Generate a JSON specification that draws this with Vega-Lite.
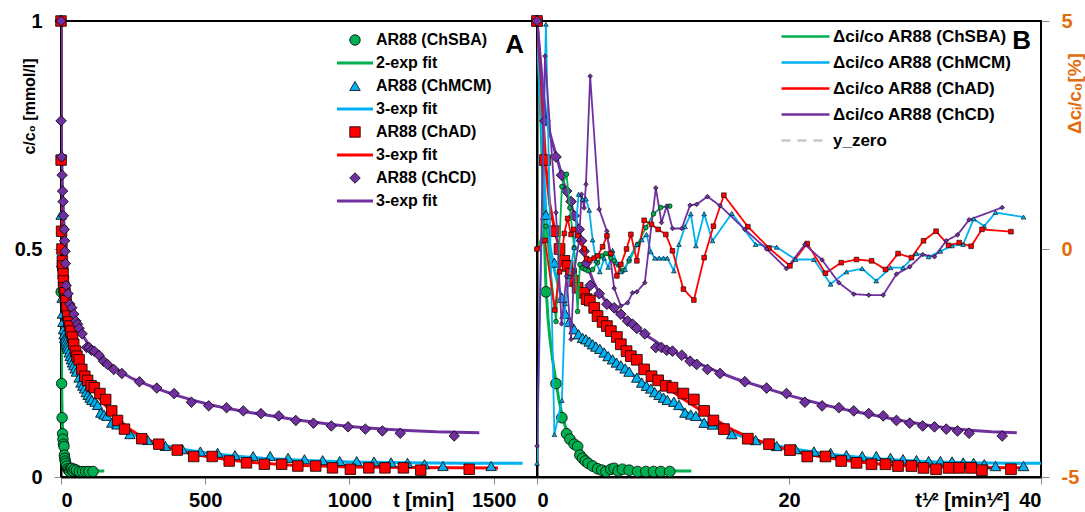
{
"$schema": "https://vega.github.io/schema/vega-lite/v6.json",
"background": "white",
"padding": {"left": 13, "top": 10, "right": 2, "bottom": 2},
"autosize": {"type": "pad"},
"spacing": 0,
"bounds": "flush",
"config": {
  "font": "Liberation Sans",
  "view": {"stroke": "#000000", "strokeWidth": 2},
  "axis": {"grid": false, "domainColor": "#000000", "domainWidth": 2, "tickColor": "#8c8c8c", "tickSize": 7, "labelFont": "Liberation Sans", "labelFontWeight": "bold", "labelFontSize": 20, "labelColor": "#000000", "titleFont": "Liberation Sans", "titleFontWeight": "bold", "titleFontSize": 20, "titleColor": "#000000"}
},
"datasets": {
"pts": [
{"k":"ChSBA","t":0,"c":1,"r":0},
{"k":"ChSBA","t":0.51,"c":0.406,"r":0.5},
{"k":"ChSBA","t":2.27,"c":0.205,"r":-1.59},
{"k":"ChSBA","t":3.9,"c":0.13,"r":1.37},
{"k":"ChSBA","t":5.5,"c":0.095,"r":1.64},
{"k":"ChSBA","t":6.8,"c":0.083,"r":0.9},
{"k":"ChSBA","t":8.7,"c":0.072,"r":0.03},
{"k":"ChSBA","t":10.4,"c":0.067,"r":-1.37},
{"k":"ChSBA","t":11.6,"c":0.048,"r":-0.34},
{"k":"ChSBA","t":13.1,"c":0.041,"r":-0.42},
{"k":"ChSBA","t":14.7,"c":0.035,"r":-0.45},
{"k":"ChSBA","t":16.5,"c":0.03,"r":-0.48},
{"k":"ChSBA","t":19.5,"c":0.024,"r":-0.45},
{"k":"ChSBA","t":23.1,"c":0.018,"r":-0.3},
{"k":"ChSBA","t":26.5,"c":0.015,"r":-0.15},
{"k":"ChSBA","t":29.9,"c":0.012,"r":-0.1},
{"k":"ChSBA","t":34.4,"c":0.017,"r":-0.2},
{"k":"ChSBA","t":37.5,"c":0.019,"r":-0.26},
{"k":"ChSBA","t":41.5,"c":0.013,"r":-0.35},
{"k":"ChSBA","t":46,"c":0.017,"r":-0.48},
{"k":"ChSBA","t":53.5,"c":0.015,"r":-0.26},
{"k":"ChSBA","t":63.7,"c":0.012,"r":0.1},
{"k":"ChSBA","t":74.6,"c":0.012,"r":0.47},
{"k":"ChSBA","t":85.5,"c":0.012,"r":0.77},
{"k":"ChSBA","t":96.6,"c":0.012,"r":0.91},
{"k":"ChSBA","t":111,"c":0.012,"r":0.94},
{"k":"ChMCM","t":0,"c":1,"r":-4.7},
{"k":"ChMCM","t":0.5,"c":0.575,"r":4.93},
{"k":"ChMCM","t":1.9,"c":0.47,"r":-4.07},
{"k":"ChMCM","t":3.9,"c":0.393,"r":-3.32},
{"k":"ChMCM","t":5.0,"c":0.358,"r":-1.2},
{"k":"ChMCM","t":6.6,"c":0.34,"r":-0.6},
{"k":"ChMCM","t":8.7,"c":0.324,"r":0.03},
{"k":"ChMCM","t":10.9,"c":0.313,"r":1.2},
{"k":"ChMCM","t":13.1,"c":0.305,"r":1.09},
{"k":"ChMCM","t":15.1,"c":0.302,"r":1.1},
{"k":"ChMCM","t":17.2,"c":0.297,"r":0.85},
{"k":"ChMCM","t":19.5,"c":0.291,"r":0.2},
{"k":"ChMCM","t":21.9,"c":0.286,"r":-0.26},
{"k":"ChMCM","t":24.9,"c":0.281,"r":-0.5},
{"k":"ChMCM","t":28.4,"c":0.273,"r":-0.2},
{"k":"ChMCM","t":31.9,"c":0.265,"r":-0.4},
{"k":"ChMCM","t":36,"c":0.258,"r":-0.03},
{"k":"ChMCM","t":39.8,"c":0.251,"r":-0.3},
{"k":"ChMCM","t":44.3,"c":0.245,"r":-0.5},
{"k":"ChMCM","t":49,"c":0.238,"r":-0.45},
{"k":"ChMCM","t":53.5,"c":0.231,"r":-0.2},
{"k":"ChMCM","t":62.8,"c":0.218,"r":0.1},
{"k":"ChMCM","t":69.2,"c":0.207,"r":0.2},
{"k":"ChMCM","t":75.5,"c":0.2,"r":0.32},
{"k":"ChMCM","t":81.6,"c":0.194,"r":-0.06},
{"k":"ChMCM","t":87.4,"c":0.186,"r":-0.2},
{"k":"ChMCM","t":93.9,"c":0.18,"r":-0.2},
{"k":"ChMCM","t":100.8,"c":0.174,"r":-0.2},
{"k":"ChMCM","t":107,"c":0.169,"r":-0.2},
{"k":"ChMCM","t":118,"c":0.165,"r":-0.48},
{"k":"ChMCM","t":127,"c":0.158,"r":0.1},
{"k":"ChMCM","t":138,"c":0.141,"r":0.49},
{"k":"ChMCM","t":149,"c":0.137,"r":0.77},
{"k":"ChMCM","t":159,"c":0.134,"r":0.07},
{"k":"ChMCM","t":176,"c":0.119,"r":0.77},
{"k":"ChMCM","t":194,"c":0.115,"r":0.18},
{"k":"ChMCM","t":239,"c":0.094,"r":0.78},
{"k":"ChMCM","t":301,"c":0.081,"r":0.1},
{"k":"ChMCM","t":362,"c":0.068,"r":0.04},
{"k":"ChMCM","t":421,"c":0.061,"r":-0.23},
{"k":"ChMCM","t":483,"c":0.056,"r":-0.23},
{"k":"ChMCM","t":543,"c":0.053,"r":-0.77},
{"k":"ChMCM","t":603,"c":0.048,"r":-0.5},
{"k":"ChMCM","t":666,"c":0.046,"r":-0.43},
{"k":"ChMCM","t":725,"c":0.046,"r":-0.7},
{"k":"ChMCM","t":787,"c":0.042,"r":-0.41},
{"k":"ChMCM","t":844,"c":0.039,"r":-0.41},
{"k":"ChMCM","t":907,"c":0.037,"r":-0.1},
{"k":"ChMCM","t":966,"c":0.035,"r":-0.17},
{"k":"ChMCM","t":1025,"c":0.035,"r":-0.05},
{"k":"ChMCM","t":1085,"c":0.034,"r":0.07},
{"k":"ChMCM","t":1144,"c":0.032,"r":0.1},
{"k":"ChMCM","t":1201,"c":0.031,"r":0.66},
{"k":"ChMCM","t":1260,"c":0.028,"r":0.5},
{"k":"ChMCM","t":1324,"c":0.024,"r":0.8},
{"k":"ChMCM","t":1491,"c":0.024,"r":0.7},
{"k":"ChAD","t":0,"c":1,"r":0},
{"k":"ChAD","t":0.4,"c":0.695,"r":0.19},
{"k":"ChAD","t":2.0,"c":0.539,"r":-1.34},
{"k":"ChAD","t":3.2,"c":0.5,"r":-0.5},
{"k":"ChAD","t":4.7,"c":0.474,"r":0.34},
{"k":"ChAD","t":5.9,"c":0.463,"r":0.67},
{"k":"ChAD","t":7.3,"c":0.446,"r":0.32},
{"k":"ChAD","t":8.5,"c":0.43,"r":0.43},
{"k":"ChAD","t":10.4,"c":0.415,"r":0.29},
{"k":"ChAD","t":14.0,"c":0.404,"r":0.0},
{"k":"ChAD","t":15.5,"c":0.39,"r":-0.21},
{"k":"ChAD","t":17.6,"c":0.387,"r":-0.24},
{"k":"ChAD","t":20.6,"c":0.371,"r":-0.2},
{"k":"ChAD","t":23.1,"c":0.353,"r":-0.15},
{"k":"ChAD","t":27.1,"c":0.34,"r":0.05},
{"k":"ChAD","t":30.8,"c":0.331,"r":0.29},
{"k":"ChAD","t":34.4,"c":0.32,"r":-0.1},
{"k":"ChAD","t":40.2,"c":0.307,"r":-0.59},
{"k":"ChAD","t":44.3,"c":0.291,"r":-0.34},
{"k":"ChAD","t":50.5,"c":0.276,"r":0.0},
{"k":"ChAD","t":55.5,"c":0.265,"r":0.32},
{"k":"ChAD","t":62.8,"c":0.257,"r":-0.26},
{"k":"ChAD","t":72.3,"c":0.236,"r":0.63},
{"k":"ChAD","t":82.6,"c":0.221,"r":0.54},
{"k":"ChAD","t":92.4,"c":0.212,"r":0.43},
{"k":"ChAD","t":104.5,"c":0.2,"r":0.32},
{"k":"ChAD","t":115.6,"c":0.196,"r":-0.04},
{"k":"ChAD","t":135,"c":0.183,"r":-0.88},
{"k":"ChAD","t":155,"c":0.17,"r":-1.12},
{"k":"ChAD","t":176,"c":0.145,"r":-0.19},
{"k":"ChAD","t":196,"c":0.124,"r":0.5},
{"k":"ChAD","t":220,"c":0.105,"r":1.18},
{"k":"ChAD","t":280,"c":0.084,"r":0.49},
{"k":"ChAD","t":339,"c":0.072,"r":0.02},
{"k":"ChAD","t":403,"c":0.059,"r":-0.37},
{"k":"ChAD","t":460,"c":0.045,"r":0.12},
{"k":"ChAD","t":524,"c":0.045,"r":-0.53},
{"k":"ChAD","t":583,"c":0.035,"r":-0.3},
{"k":"ChAD","t":643,"c":0.031,"r":-0.23},
{"k":"ChAD","t":705,"c":0.028,"r":-0.26},
{"k":"ChAD","t":765,"c":0.028,"r":-0.45},
{"k":"ChAD","t":821,"c":0.024,"r":-0.1},
{"k":"ChAD","t":883,"c":0.024,"r":-0.19},
{"k":"ChAD","t":941,"c":0.02,"r":0.18},
{"k":"ChAD","t":1003,"c":0.017,"r":0.39},
{"k":"ChAD","t":1067,"c":0.02,"r":0.08},
{"k":"ChAD","t":1123,"c":0.02,"r":0.14},
{"k":"ChAD","t":1187,"c":0.02,"r":0.06},
{"k":"ChAD","t":1247,"c":0.015,"r":0.43},
{"k":"ChAD","t":1415,"c":0.017,"r":0.38},
{"k":"ChCD","t":0,"c":1,"r":-4.32},
{"k":"ChCD","t":0.4,"c":0.781,"r":4.23},
{"k":"ChCD","t":2.27,"c":0.702,"r":0.8},
{"k":"ChCD","t":3.8,"c":0.662,"r":-1.64},
{"k":"ChCD","t":5.5,"c":0.627,"r":-0.6},
{"k":"ChCD","t":7.3,"c":0.604,"r":-1.98},
{"k":"ChCD","t":8.7,"c":0.573,"r":-0.5},
{"k":"ChCD","t":11.2,"c":0.543,"r":0.2},
{"k":"ChCD","t":12.5,"c":0.518,"r":1.2},
{"k":"ChCD","t":14,"c":0.495,"r":0.9},
{"k":"ChCD","t":15.1,"c":0.468,"r":1.42},
{"k":"ChCD","t":17.8,"c":0.42,"r":3.79},
{"k":"ChCD","t":24.4,"c":0.402,"r":0.87},
{"k":"ChCD","t":30.8,"c":0.379,"r":0.39},
{"k":"ChCD","t":37.5,"c":0.371,"r":-0.86},
{"k":"ChCD","t":44.3,"c":0.357,"r":-1.25},
{"k":"ChCD","t":51.7,"c":0.342,"r":-1.18},
{"k":"ChCD","t":57.5,"c":0.335,"r":-0.96},
{"k":"ChCD","t":62.8,"c":0.326,"r":-0.94},
{"k":"ChCD","t":73.2,"c":0.314,"r":-0.74},
{"k":"ChCD","t":88.9,"c":0.284,"r":1.34},
{"k":"ChCD","t":97.6,"c":0.284,"r":0.58},
{"k":"ChCD","t":106,"c":0.278,"r":0.94},
{"k":"ChCD","t":115.6,"c":0.276,"r":0.45},
{"k":"ChCD","t":132,"c":0.267,"r":0.45},
{"k":"ChCD","t":147.6,"c":0.254,"r":0.96},
{"k":"ChCD","t":160.7,"c":0.247,"r":0.98},
{"k":"ChCD","t":183,"c":0.236,"r":1.15},
{"k":"ChCD","t":211,"c":0.227,"r":0.95},
{"k":"ChCD","t":272,"c":0.209,"r":0.43},
{"k":"ChCD","t":332,"c":0.195,"r":0.0},
{"k":"ChCD","t":392,"c":0.183,"r":-0.43},
{"k":"ChCD","t":452,"c":0.164,"r":0.1},
{"k":"ChCD","t":512,"c":0.156,"r":-0.24},
{"k":"ChCD","t":574,"c":0.152,"r":-0.74},
{"k":"ChCD","t":632,"c":0.145,"r":-0.99},
{"k":"ChCD","t":693,"c":0.139,"r":-1.01},
{"k":"ChCD","t":755,"c":0.134,"r":-1.01},
{"k":"ChCD","t":814,"c":0.124,"r":-0.55},
{"k":"ChCD","t":875,"c":0.118,"r":-0.39},
{"k":"ChCD","t":937,"c":0.112,"r":-0.12},
{"k":"ChCD","t":995,"c":0.110,"r":-0.17},
{"k":"ChCD","t":1055,"c":0.105,"r":0.18},
{"k":"ChCD","t":1114,"c":0.101,"r":0.31},
{"k":"ChCD","t":1176,"c":0.096,"r":0.64},
{"k":"ChCD","t":1363,"c":0.090,"r":0.91}
],
"fit": [
{"k":"ChSBA","t":0,"c":1},{"k":"ChSBA","t":0.1,"c":0.78},{"k":"ChSBA","t":0.25,"c":0.6},{"k":"ChSBA","t":0.5,"c":0.42},{"k":"ChSBA","t":0.75,"c":0.35},{"k":"ChSBA","t":1,"c":0.31},{"k":"ChSBA","t":1.5,"c":0.26},{"k":"ChSBA","t":2,"c":0.225},{"k":"ChSBA","t":3,"c":0.17},{"k":"ChSBA","t":4,"c":0.135},{"k":"ChSBA","t":5,"c":0.112},{"k":"ChSBA","t":6,"c":0.097},{"k":"ChSBA","t":7,"c":0.085},{"k":"ChSBA","t":8,"c":0.076},{"k":"ChSBA","t":10,"c":0.062},{"k":"ChSBA","t":12,"c":0.05},{"k":"ChSBA","t":14,"c":0.041},{"k":"ChSBA","t":17,"c":0.032},{"k":"ChSBA","t":20,"c":0.026},{"k":"ChSBA","t":25,"c":0.019},{"k":"ChSBA","t":30,"c":0.016},{"k":"ChSBA","t":40,"c":0.014},{"k":"ChSBA","t":60,"c":0.013},{"k":"ChSBA","t":100,"c":0.013},{"k":"ChSBA","t":150,"c":0.013},
{"k":"ChMCM","t":0,"c":1},{"k":"ChMCM","t":0.1,"c":0.8},{"k":"ChMCM","t":0.25,"c":0.68},{"k":"ChMCM","t":0.5,"c":0.58},{"k":"ChMCM","t":1,"c":0.51},{"k":"ChMCM","t":2,"c":0.45},{"k":"ChMCM","t":3,"c":0.415},{"k":"ChMCM","t":4,"c":0.39},{"k":"ChMCM","t":5,"c":0.365},{"k":"ChMCM","t":6,"c":0.35},{"k":"ChMCM","t":8,"c":0.33},{"k":"ChMCM","t":10,"c":0.318},{"k":"ChMCM","t":13,"c":0.305},{"k":"ChMCM","t":16,"c":0.297},{"k":"ChMCM","t":20,"c":0.288},{"k":"ChMCM","t":25,"c":0.279},{"k":"ChMCM","t":30,"c":0.27},{"k":"ChMCM","t":36,"c":0.259},{"k":"ChMCM","t":44,"c":0.245},{"k":"ChMCM","t":53,"c":0.231},{"k":"ChMCM","t":63,"c":0.217},{"k":"ChMCM","t":75,"c":0.201},{"k":"ChMCM","t":88,"c":0.186},{"k":"ChMCM","t":100,"c":0.174},{"k":"ChMCM","t":115,"c":0.16},{"k":"ChMCM","t":130,"c":0.149},{"k":"ChMCM","t":150,"c":0.136},{"k":"ChMCM","t":175,"c":0.122},{"k":"ChMCM","t":200,"c":0.111},{"k":"ChMCM","t":240,"c":0.096},{"k":"ChMCM","t":300,"c":0.08},{"k":"ChMCM","t":360,"c":0.069},{"k":"ChMCM","t":420,"c":0.061},{"k":"ChMCM","t":500,"c":0.053},{"k":"ChMCM","t":600,"c":0.046},{"k":"ChMCM","t":700,"c":0.041},{"k":"ChMCM","t":800,"c":0.038},{"k":"ChMCM","t":900,"c":0.035},{"k":"ChMCM","t":1000,"c":0.033},{"k":"ChMCM","t":1200,"c":0.031},{"k":"ChMCM","t":1400,"c":0.03},{"k":"ChMCM","t":1600,"c":0.03},
{"k":"ChAD","t":0,"c":1},{"k":"ChAD","t":0.1,"c":0.88},{"k":"ChAD","t":0.25,"c":0.78},{"k":"ChAD","t":0.5,"c":0.68},{"k":"ChAD","t":1,"c":0.6},{"k":"ChAD","t":2,"c":0.54},{"k":"ChAD","t":3,"c":0.505},{"k":"ChAD","t":4,"c":0.485},{"k":"ChAD","t":5,"c":0.47},{"k":"ChAD","t":6,"c":0.46},{"k":"ChAD","t":8,"c":0.438},{"k":"ChAD","t":10,"c":0.42},{"k":"ChAD","t":13,"c":0.403},{"k":"ChAD","t":16,"c":0.39},{"k":"ChAD","t":20,"c":0.372},{"k":"ChAD","t":25,"c":0.352},{"k":"ChAD","t":30,"c":0.333},{"k":"ChAD","t":35,"c":0.318},{"k":"ChAD","t":40,"c":0.305},{"k":"ChAD","t":45,"c":0.292},{"k":"ChAD","t":50,"c":0.28},{"k":"ChAD","t":60,"c":0.259},{"k":"ChAD","t":70,"c":0.241},{"k":"ChAD","t":80,"c":0.226},{"k":"ChAD","t":90,"c":0.213},{"k":"ChAD","t":100,"c":0.202},{"k":"ChAD","t":115,"c":0.188},{"k":"ChAD","t":135,"c":0.171},{"k":"ChAD","t":155,"c":0.156},{"k":"ChAD","t":175,"c":0.142},{"k":"ChAD","t":200,"c":0.126},{"k":"ChAD","t":240,"c":0.104},{"k":"ChAD","t":280,"c":0.088},{"k":"ChAD","t":340,"c":0.071},{"k":"ChAD","t":400,"c":0.059},{"k":"ChAD","t":460,"c":0.05},{"k":"ChAD","t":520,"c":0.043},{"k":"ChAD","t":600,"c":0.036},{"k":"ChAD","t":700,"c":0.03},{"k":"ChAD","t":800,"c":0.026},{"k":"ChAD","t":900,"c":0.024},{"k":"ChAD","t":1000,"c":0.022},{"k":"ChAD","t":1200,"c":0.021},{"k":"ChAD","t":1515,"c":0.02},
{"k":"ChCD","t":0,"c":1},{"k":"ChCD","t":0.1,"c":0.9},{"k":"ChCD","t":0.25,"c":0.84},{"k":"ChCD","t":0.5,"c":0.79},{"k":"ChCD","t":1,"c":0.755},{"k":"ChCD","t":2,"c":0.715},{"k":"ChCD","t":3,"c":0.685},{"k":"ChCD","t":4,"c":0.657},{"k":"ChCD","t":5,"c":0.633},{"k":"ChCD","t":6,"c":0.614},{"k":"ChCD","t":7.5,"c":0.595},{"k":"ChCD","t":9,"c":0.57},{"k":"ChCD","t":11,"c":0.544},{"k":"ChCD","t":13,"c":0.512},{"k":"ChCD","t":15,"c":0.478},{"k":"ChCD","t":17.5,"c":0.45},{"k":"ChCD","t":20,"c":0.428},{"k":"ChCD","t":24,"c":0.406},{"k":"ChCD","t":30,"c":0.385},{"k":"ChCD","t":37,"c":0.368},{"k":"ChCD","t":45,"c":0.353},{"k":"ChCD","t":55,"c":0.338},{"k":"ChCD","t":65,"c":0.324},{"k":"ChCD","t":75,"c":0.311},{"k":"ChCD","t":90,"c":0.296},{"k":"ChCD","t":105,"c":0.283},{"k":"ChCD","t":120,"c":0.273},{"k":"ChCD","t":140,"c":0.262},{"k":"ChCD","t":160,"c":0.251},{"k":"ChCD","t":185,"c":0.24},{"k":"ChCD","t":210,"c":0.229},{"k":"ChCD","t":250,"c":0.215},{"k":"ChCD","t":300,"c":0.202},{"k":"ChCD","t":350,"c":0.19},{"k":"ChCD","t":400,"c":0.179},{"k":"ChCD","t":460,"c":0.168},{"k":"ChCD","t":520,"c":0.158},{"k":"ChCD","t":580,"c":0.15},{"k":"ChCD","t":640,"c":0.143},{"k":"ChCD","t":700,"c":0.137},{"k":"ChCD","t":760,"c":0.131},{"k":"ChCD","t":820,"c":0.125},{"k":"ChCD","t":880,"c":0.12},{"k":"ChCD","t":940,"c":0.115},{"k":"ChCD","t":1000,"c":0.111},{"k":"ChCD","t":1100,"c":0.106},{"k":"ChCD","t":1200,"c":0.102},{"k":"ChCD","t":1300,"c":0.099},{"k":"ChCD","t":1450,"c":0.097}
]
},
"hconcat": [
{
  "width": 476, "height": 456,
  "layer": [
    {
      "data": {"name": "fit"},
      "mark": {"type": "line", "strokeWidth": 3, "clip": true},
      "encoding": {
        "x": {"field": "t", "type": "quantitative", "scale": {"domain": [0, 1650], "nice": false}, "axis": {"values": [0, 500, 1000, 1500], "format": "d", "labelPadding": 6, "title": "t [min]", "titleX": 362, "titleY": 23, "titleBaseline": "middle", "titleAlign": "center"}},
        "y": {"field": "c", "type": "quantitative", "scale": {"domain": [0, 1], "nice": false}, "axis": {"values": [0, 0.5, 1], "format": "~g", "labelPadding": 12, "title": "c/c₀ [mmol/l]", "titleAngle": 270, "titleX": -32, "titleY": 85, "titleAlign": "center", "titleBaseline": "middle", "titleFontSize": 16}},
        "color": {"field": "k", "type": "nominal", "scale": {"domain": ["ChSBA", "ChMCM", "ChAD", "ChCD"], "range": ["#00b050", "#00b0f0", "#ff0000", "#7030a0"]}, "legend": null}
      }
    },
    {
      "data": {"name": "pts"},
      "mark": {"type": "point", "filled": true, "opacity": 1},
      "encoding": {
        "x": {"field": "t", "type": "quantitative"},
        "y": {"field": "c", "type": "quantitative"},
        "shape": {"field": "k", "type": "nominal",
          "scale": {"domain": ["ChSBA", "fSBA", "ChMCM", "fMCM", "ChAD", "fAD", "ChCD", "fCD"], "range": ["circle", "M-3,0H3", "triangle-up", "M-3,0H3", "square", "M-3,0H3", "diamond", "M-3,0H3"]},
          "legend": {"orient": "none", "legendX": 286, "legendY": 11, "title": null, "padding": 0, "labelFontSize": 16, "labelFont": "Liberation Sans", "labelFontWeight": "bold", "labelColor": "#000000", "labelOffset": 13, "rowPadding": 7, "labelLimit": 300, "symbolLimit": 20,
            "labelExpr": "datum.value == 'fSBA' ? '2-exp fit' : substring(datum.value, 0, 1) == 'f' ? '3-exp fit' : 'AR88 (' + datum.value + ')'"}},
        "fill": {"field": "k", "type": "nominal",
          "scale": {"domain": ["ChSBA", "fSBA", "ChMCM", "fMCM", "ChAD", "fAD", "ChCD", "fCD"], "range": ["#00b050", "#00b050", "#00b0f0", "#00b0f0", "#ff0000", "#ff0000", "#7030a0", "#7030a0"]},
          "legend": {"orient": "none", "legendX": 286, "legendY": 11, "title": null, "padding": 0, "labelFontSize": 16, "labelFont": "Liberation Sans", "labelFontWeight": "bold", "labelColor": "#000000", "labelOffset": 13, "rowPadding": 7, "labelLimit": 300, "symbolLimit": 20,
            "labelExpr": "datum.value == 'fSBA' ? '2-exp fit' : substring(datum.value, 0, 1) == 'f' ? '3-exp fit' : 'AR88 (' + datum.value + ')'"}},
        "stroke": {"field": "k", "type": "nominal",
          "scale": {"domain": ["ChSBA", "fSBA", "ChMCM", "fMCM", "ChAD", "fAD", "ChCD", "fCD"], "range": ["#000000", "#00b050", "#000000", "#00b0f0", "#000000", "#ff0000", "#000000", "#7030a0"]},
          "legend": {"orient": "none", "legendX": 286, "legendY": 11, "title": null, "padding": 0, "labelFontSize": 16, "labelFont": "Liberation Sans", "labelFontWeight": "bold", "labelColor": "#000000", "labelOffset": 13, "rowPadding": 7, "labelLimit": 300, "symbolLimit": 20,
            "labelExpr": "datum.value == 'fSBA' ? '2-exp fit' : substring(datum.value, 0, 1) == 'f' ? '3-exp fit' : 'AR88 (' + datum.value + ')'"}},
        "size": {"field": "k", "type": "nominal",
          "scale": {"type": "ordinal", "domain": ["ChSBA", "fSBA", "ChMCM", "fMCM", "ChAD", "fAD", "ChCD", "fCD"], "range": [110, 144, 110, 144, 110, 144, 110, 144]},
          "legend": {"orient": "none", "legendX": 286, "legendY": 11, "title": null, "padding": 0, "labelFontSize": 16, "labelFont": "Liberation Sans", "labelFontWeight": "bold", "labelColor": "#000000", "labelOffset": 13, "rowPadding": 7, "labelLimit": 300, "symbolLimit": 20,
            "labelExpr": "datum.value == 'fSBA' ? '2-exp fit' : substring(datum.value, 0, 1) == 'f' ? '3-exp fit' : 'AR88 (' + datum.value + ')'"}},
        "strokeWidth": {"field": "k", "type": "nominal",
          "scale": {"type": "ordinal", "domain": ["ChSBA", "fSBA", "ChMCM", "fMCM", "ChAD", "fAD", "ChCD", "fCD"], "range": [0.8, 3, 0.8, 3, 0.8, 3, 0.8, 3]},
          "legend": {"orient": "none", "legendX": 286, "legendY": 11, "title": null, "padding": 0, "labelFontSize": 16, "labelFont": "Liberation Sans", "labelFontWeight": "bold", "labelColor": "#000000", "labelOffset": 13, "rowPadding": 7, "labelLimit": 300, "symbolLimit": 20,
            "labelExpr": "datum.value == 'fSBA' ? '2-exp fit' : substring(datum.value, 0, 1) == 'f' ? '3-exp fit' : 'AR88 (' + datum.value + ')'"}}
      }
    },
    {
      "data": {"values": [{"lab": "A"}]},
      "mark": {"type": "text", "align": "right", "baseline": "alphabetic", "dx": -13, "dy": 32, "fontSize": 26, "fontWeight": "bold", "font": "Liberation Sans", "fill": "#000000"},
      "encoding": {"text": {"field": "lab"}, "x": {"datum": 1650, "type": "quantitative"}, "y": {"datum": 1, "type": "quantitative"}}
    }
  ]
},
{
  "width": 504, "height": 456,
  "layer": [
    {
      "layer": [
        {
          "data": {"name": "fit"},
          "mark": {"type": "line", "strokeWidth": 3, "clip": true},
          "encoding": {
            "x": {"field": "t", "type": "quantitative", "scale": {"type": "sqrt", "domain": [0, 1600], "nice": false}, "axis": {"values": [0, 400, 1600], "labelExpr": "'' + sqrt(datum.value)", "labelPadding": 6, "title": "t¹⁄² [min¹⁄²]", "titleX": 425, "titleY": 23, "titleBaseline": "middle", "titleAlign": "center"}},
            "y": {"field": "c", "type": "quantitative", "scale": {"domain": [0, 1], "nice": false}, "axis": {"orient": "left", "labels": false, "ticks": false, "title": null}},
            "stroke": {"field": "k", "type": "nominal", "scale": {"domain": ["ChSBA", "ChMCM", "ChAD", "ChCD"], "range": ["#00b050", "#00b0f0", "#ff0000", "#7030a0"]}, "legend": null}
          }
        },
        {
          "data": {"name": "pts"},
          "mark": {"type": "point", "filled": true, "size": 115, "stroke": "#000000", "strokeWidth": 0.8, "opacity": 1},
          "encoding": {
            "x": {"field": "t", "type": "quantitative"},
            "y": {"field": "c", "type": "quantitative"},
            "fill": {"field": "k", "type": "nominal", "scale": {"domain": ["ChSBA", "ChMCM", "ChAD", "ChCD"], "range": ["#00b050", "#00b0f0", "#ff0000", "#7030a0"]}, "legend": null},
            "shape": {"field": "k", "type": "nominal", "scale": {"domain": ["ChSBA", "ChMCM", "ChAD", "ChCD"], "range": ["circle", "triangle-up", "square", "diamond"]}, "legend": null}
          }
        },
        {
          "data": {"values": [{"lab": "B"}]},
          "mark": {"type": "text", "align": "right", "baseline": "alphabetic", "dx": -10, "dy": 28, "fontSize": 26, "fontWeight": "bold", "font": "Liberation Sans", "fill": "#000000"},
          "encoding": {"text": {"field": "lab"}, "x": {"datum": 1600, "type": "quantitative"}, "y": {"datum": 1, "type": "quantitative"}}
        }
      ]
    },
    {
      "layer": [
        {
          "data": {"name": "pts"},
          "mark": {"type": "line", "strokeWidth": 1.8, "clip": true},
          "encoding": {
            "x": {"field": "t", "type": "quantitative"},
            "y": {"field": "r", "type": "quantitative", "scale": {"domain": [-5, 5], "nice": false}, "axis": {"orient": "right", "values": [-5, 0, 5], "labelExpr": "'' + datum.value", "domain": false, "tickSize": 8, "labelPadding": 12, "labelColor": "#e46c0a", "title": "Δcᵢ/c₀[%]", "titleColor": "#e46c0a", "titleFontSize": 19, "titleAngle": 270, "titleX": 33, "titleY": 72, "titleAlign": "center", "titleBaseline": "middle"}},
            "color": {"field": "k", "type": "nominal",
              "scale": {"domain": ["ChSBA", "ChMCM", "ChAD", "ChCD", "y_zero"], "range": ["#00b050", "#00b0f0", "#ff0000", "#7030a0", "#c8c8c8"]},
              "legend": {"orient": "none", "legendX": 260, "legendY": 7, "title": null, "padding": 0, "labelFontSize": 17, "labelFont": "Liberation Sans", "labelFontWeight": "bold", "labelColor": "#000000", "labelOffset": 19, "rowPadding": 8, "labelLimit": 300, "symbolType": "M-4,0H4", "symbolSize": 144, "symbolStrokeWidth": 2.5,
                "labelExpr": "datum.value == 'y_zero' ? 'y_zero' : 'Δci/co AR88 (' + datum.value + ')'"}},
            "strokeDash": {"field": "k", "type": "nominal",
              "scale": {"domain": ["ChSBA", "ChMCM", "ChAD", "ChCD", "y_zero"], "range": [[1, 0], [1, 0], [1, 0], [1, 0], [9, 7]]},
              "legend": {"orient": "none", "legendX": 260, "legendY": 7, "title": null, "padding": 0, "labelFontSize": 17, "labelFont": "Liberation Sans", "labelFontWeight": "bold", "labelColor": "#000000", "labelOffset": 19, "rowPadding": 8, "labelLimit": 300, "symbolType": "M-4,0H4", "symbolSize": 144, "symbolStrokeWidth": 2.5,
                "labelExpr": "datum.value == 'y_zero' ? 'y_zero' : 'Δci/co AR88 (' + datum.value + ')'"}}
          }
        },
        {
          "data": {"name": "pts"},
          "mark": {"type": "point", "filled": true, "size": 22, "stroke": "#000000", "strokeWidth": 0.6, "opacity": 1},
          "encoding": {
            "x": {"field": "t", "type": "quantitative"},
            "y": {"field": "r", "type": "quantitative"},
            "fill": {"field": "k", "type": "nominal", "legend": null},
            "shape": {"field": "k", "type": "nominal", "legend": null}
          }
        },
        {
          "mark": {"type": "rule", "color": "#8c8c8c", "strokeWidth": 3, "strokeDash": [11, 8]},
          "encoding": {"y": {"datum": 0, "type": "quantitative"}}
        }
      ]
    }
  ],
  "resolve": {"scale": {"y": "independent"}}
}
],
"resolve": {"scale": {"shape": "independent", "fill": "independent", "stroke": "independent", "color": "independent", "size": "independent", "strokeWidth": "independent", "strokeDash": "independent", "x": "independent", "y": "independent"}, "legend": {"shape": "independent", "color": "independent", "fill": "independent", "stroke": "independent", "size": "independent", "strokeWidth": "independent", "strokeDash": "independent"}}
}
